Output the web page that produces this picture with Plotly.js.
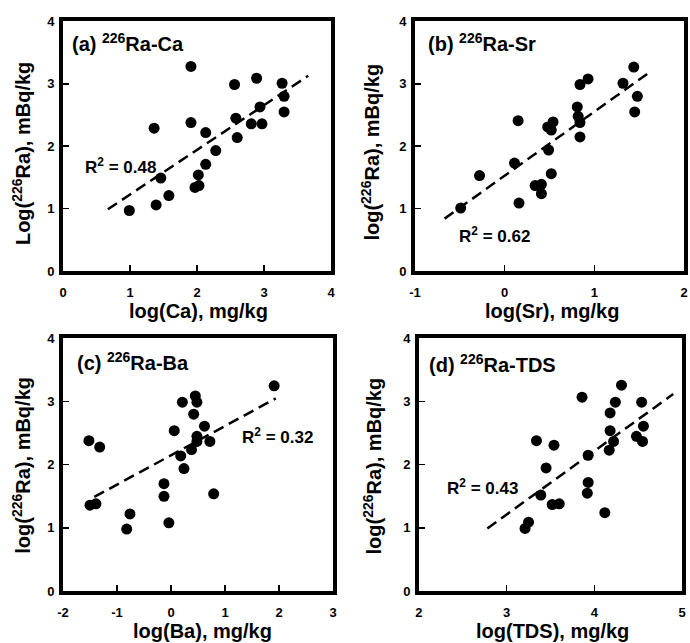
<!DOCTYPE html>
<html><head><meta charset="utf-8">
<script src="https://cdn.plot.ly/plotly-3.0.1.min.js"></script>
<style>html,body{margin:0;padding:0;background:#fff}</style>
</head><body><div id="chart" style="width:690px;height:643px"></div>
<script>
// (a) 226Ra vs Ca
const caX = [0.99,1.39,1.58,1.46,1.36,1.91,1.91,1.97,2.03,2.02,2.13,2.13,2.28,2.56,2.58,2.60,2.81,2.97,2.94,2.89,3.27,3.30,3.30];
const caY = [0.97,1.06,1.21,1.49,2.29,3.28,2.38,1.34,1.37,1.54,1.71,2.22,1.93,2.99,2.45,2.14,2.36,2.36,2.63,3.09,3.01,2.80,2.55];
const caFitX = [0.67,3.66], caFitY = [0.99,3.13];
// (b) 226Ra vs Sr
const srX = [-0.49,-0.28,0.11,0.15,0.16,0.34,0.41,0.41,0.49,0.48,0.52,0.54,0.52,0.81,0.82,0.84,0.84,0.84,0.93,1.32,1.44,1.48,1.45];
const srY = [1.01,1.53,1.73,2.41,1.09,1.37,1.24,1.39,1.94,2.31,2.26,2.39,1.56,2.63,2.48,2.38,2.15,2.99,3.08,3.01,3.27,2.80,2.55];
const srFitX = [-0.67,1.62], srFitY = [0.84,3.19];
// (c) 226Ra vs Ba
const baX = [-1.50,-1.39,-1.52,-1.32,-0.76,-0.82,-0.13,-0.13,-0.04,0.06,0.21,0.18,0.24,0.38,0.42,0.45,0.48,0.48,0.48,0.62,0.72,0.79,1.91];
const baY = [1.36,1.38,2.38,2.28,1.22,0.98,1.70,1.50,1.08,2.54,2.99,2.14,1.94,2.24,2.80,3.09,2.99,2.45,2.37,2.61,2.37,1.54,3.25];
const baFitX = [-1.42,1.94], baFitY = [1.49,3.05];
// (d) 226Ra vs TDS
const tdsX = [3.21,3.25,3.39,3.34,3.45,3.54,3.52,3.60,3.86,3.93,3.93,3.92,4.12,4.18,4.18,4.17,4.22,4.24,4.31,4.48,4.54,4.56,4.55];
const tdsY = [0.99,1.09,1.52,2.38,1.95,2.31,1.37,1.38,3.07,2.15,1.72,1.55,1.24,2.82,2.54,2.23,2.37,2.99,3.26,2.45,2.99,2.61,2.37];
const tdsFitX = [2.78,4.90], tdsFitY = [0.99,3.12];

// tick labels
const xTickVals = [[0,1,2,3,4],[-1,0,1,2],[-2,-1,0,1,2,3],[2,3,4,5]];
const xTickText = [['0','1','2','3','4'],['-1','0','1','2'],['-2','-1','0','1','2','3'],['2','3','4','5']];
const yTickVals = [0,1,2,3,4];
const yTickText = ['0','1','2','3','4'];

const panelTitles = ['(a) <sup>226</sup>Ra-Ca','(b) <sup>226</sup>Ra-Sr','(c) <sup>226</sup>Ra-Ba','(d) <sup>226</sup>Ra-TDS'];
const r2Labels = ['R<sup>2</sup> = 0.48','R<sup>2</sup> = 0.62','R<sup>2</sup> = 0.32','R<sup>2</sup> = 0.43'];
const xTitles = ['log(Ca), mg/kg','log(Sr), mg/kg','log(Ba), mg/kg','log(TDS), mg/kg'];
const yTitles = ['Log(<sup>226</sup>Ra), mBq/kg','log(<sup>226</sup>Ra), mBq/kg','log(<sup>226</sup>Ra), mBq/kg','log(<sup>226</sup>Ra), mBq/kg'];
const xRanges = [[0,4],[-1,2],[-2,3],[2,5]];

const FONT = 'Liberation Sans';
const bold = t => '<b>'+t+'</b>';
const sets = [[caX,caY,caFitX,caFitY],[srX,srY,srFitX,srFitY],[baX,baY,baFitX,baFitY],[tdsX,tdsY,tdsFitX,tdsFitY]];
const traces = [];
sets.forEach((s,i)=>{
  const xa = i===0?'x':'x'+(i+1), ya = i===0?'y':'y'+(i+1);
  traces.push({x:s[0],y:s[1],type:'scatter',mode:'markers',xaxis:xa,yaxis:ya,
    marker:{color:'#000',size:11},showlegend:false});
  traces.push({x:s[2],y:s[3],type:'scatter',mode:'lines',xaxis:xa,yaxis:ya,
    line:{color:'#000',width:2.5,dash:'11px,6px'},showlegend:false});
});

const xDom = [[0.0913,0.4797],[0.6014,0.9913],[0.0913,0.4826],[0.6072,0.9884]];
const yDom = [[0.5785,0.9666],[0.5785,0.9666],[0.0809,0.4736],[0.0809,0.4736]];
// axis title placement (paper coords)
const xTitlePos = [[0.287,0.517],[0.800,0.517],[0.293,0.019],[0.800,0.019]];
const yTitlePos = [[0.032,0.7605],[0.5356,0.7636],[0.030,0.2768],[0.5399,0.2753]];

const layout = {
  width:690,height:643,margin:{l:0,r:0,t:0,b:0},
  paper_bgcolor:'#fff',plot_bgcolor:'#fff',
  font:{family:FONT,color:'#000'},
  annotations:[]
};
const titlePos = [[0.10,3.66],[-0.88,3.66],[-1.78,3.64],[2.09,3.60]];
const r2Pos = [[0.30,1.69],[-0.53,0.57],[1.28,2.45],[2.30,1.64]];
function axBase(){
  return {showline:true,linewidth:4,linecolor:'#000',mirror:true,
    ticks:'inside',ticklen:6,tickwidth:1.5,tickcolor:'#000',
    showgrid:false,zeroline:false,tickmode:'array',
    tickfont:{family:FONT,size:13,weight:'bold',color:'#000'}};
}
for(let i=0;i<4;i++){
  const sfx = i===0?'':String(i+1);
  const xa = axBase(); xa.domain=xDom[i]; xa.range=xRanges[i]; xa.anchor='y'+sfx; xa.ticklabelstandoff=6;
  xa.tickvals=xTickVals[i]; xa.ticktext=xTickText[i].map(bold);
  const ya = axBase(); ya.domain=yDom[i]; ya.range=[0,4]; ya.anchor='x'+sfx; ya.ticklabelstandoff=2;
  ya.tickvals=yTickVals; ya.ticktext=yTickText.map(bold);
  layout['xaxis'+sfx]=xa; layout['yaxis'+sfx]=ya;
  layout.annotations.push({xref:'x'+sfx,yref:'y'+sfx,x:titlePos[i][0],y:titlePos[i][1],
    text:panelTitles[i],showarrow:false,xanchor:'left',yanchor:'middle',
    font:{family:FONT,size:20,weight:'bold',color:'#000'}});
  layout.annotations.push({xref:'x'+sfx,yref:'y'+sfx,x:r2Pos[i][0],y:r2Pos[i][1],
    text:r2Labels[i],showarrow:false,xanchor:'left',yanchor:'middle',
    font:{family:FONT,size:17,weight:'bold',color:'#000'}});
  layout.annotations.push({xref:'paper',yref:'paper',x:xTitlePos[i][0],y:xTitlePos[i][1],
    text:xTitles[i],showarrow:false,xanchor:'center',yanchor:'middle',
    font:{family:FONT,size:20,weight:'bold',color:'#000'}});
  layout.annotations.push({xref:'paper',yref:'paper',x:yTitlePos[i][0],y:yTitlePos[i][1],
    text:yTitles[i],showarrow:false,xanchor:'center',yanchor:'middle',textangle:-90,
    font:{family:FONT,size:20,weight:'bold',color:'#000'}});
}
Plotly.newPlot('chart',traces,layout,{displayModeBar:false,staticPlot:true});
</script></body></html>
